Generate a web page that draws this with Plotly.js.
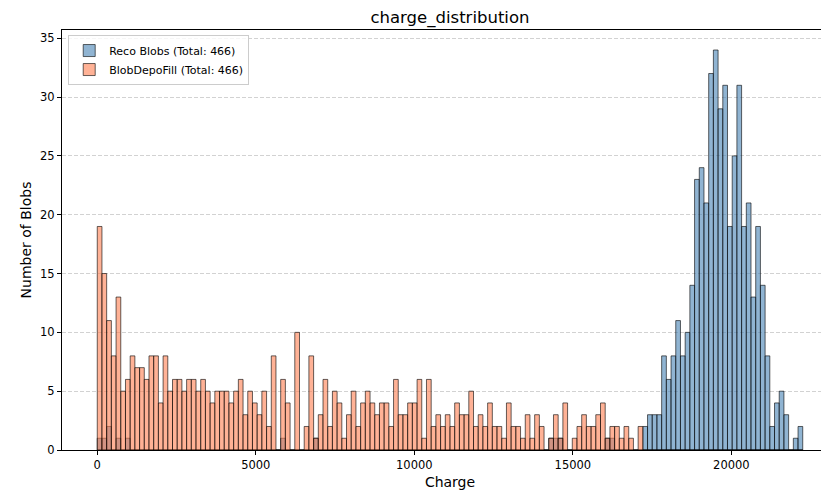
<!DOCTYPE html>
<html>
<head>
<meta charset="utf-8">
<script src="https://cdn.plot.ly/plotly-3.0.1.min.js"></script>
<style>
  html, body { margin: 0; padding: 0; overflow: hidden; background: #fff; }
  #chart { width: 840px; height: 490px; }
</style>
</head>
<body>
<div id="chart"></div>
<script>
// Histogram bin definition (shared by both series)
const binStart = 0;
const binEnd = 22250;
const nBins = 150;

// Counts per bin
const recoCounts = [
  1,1,2,0,1,0,1,0,0,0,
  0,0,0,0,0,0,0,0,0,0,
  0,0,0,0,0,0,0,0,0,0,
  0,0,0,0,0,0,0,0,0,1,
  0,0,0,0,0,0,1,0,0,0,
  0,0,0,0,0,0,0,0,0,0,
  0,0,0,0,0,0,0,0,0,0,
  0,0,0,0,0,0,0,0,0,0,
  0,0,0,0,0,0,0,0,0,0,
  0,0,0,0,0,0,1,1,1,0,
  0,0,0,0,0,0,0,0,1,1,
  0,0,0,0,0,0,2,3,3,3,
  8,6,8,11,8,10,14,23,24,21,
  32,34,29,31,19,25,31,19,21,13,
  19,14,8,2,4,5,3,0,1,2
];
const depoCounts = [
  19,15,11,8,13,5,6,8,7,7,
  6,8,8,4,8,5,6,6,5,6,
  6,5,6,5,4,5,5,5,4,5,
  6,3,5,4,3,5,2,8,0,6,
  4,0,10,0,2,8,1,3,6,2,
  5,4,1,3,5,2,4,5,4,3,
  4,4,2,6,3,3,4,4,6,1,
  6,2,3,2,3,2,4,3,3,5,
  2,3,2,4,2,2,1,4,2,2,
  1,3,1,3,2,0,1,3,1,4,
  0,1,2,3,2,2,3,4,1,2,
  2,1,2,1,0,2,0,0,0,0,
  0,0,0,0,0,0,0,0,0,0,
  0,0,0,0,0,0,0,0,0,0,
  0,0,0,0,0,0,0,0,0,0
];
const seriesNames = ["Reco Blobs (Total: 466)", "BlobDepoFill (Total: 466)"];
const xTickVals = [0, 5000, 10000, 15000, 20000];
const yTickVals = [0, 5, 10, 15, 20, 25, 30, 35];

const binWidth = (binEnd - binStart) / nBins;
const centers = [];
for (let i = 0; i < nBins; i++) centers.push(binStart + (i + 0.5) * binWidth);

const FONT = "DejaVu Sans, sans-serif";
const EDGE = "rgba(0,0,0,0.6)";

const traces = [
  {
    type: "bar", name: seriesNames[0], x: centers, y: recoCounts, width: binWidth,
    marker: { color: "rgba(70,130,180,0.6)", line: { color: EDGE, width: 1 } },
    hoverinfo: "skip"
  },
  {
    type: "bar", name: seriesNames[1], x: centers, y: depoCounts, width: binWidth,
    marker: { color: "rgba(255,127,80,0.6)", line: { color: EDGE, width: 1 } },
    hoverinfo: "skip"
  }
];

const layout = {
  width: 840, height: 490,
  margin: { l: 62, r: 2, t: 30, b: 40 },
  paper_bgcolor: "#fff", plot_bgcolor: "#fff",
  barmode: "overlay", bargap: 0,
  font: { family: FONT, color: "#000", size: 11.5 },
  title: {
    text: "charge_distribution", font: { family: FONT, size: 16.5, color: "#000" },
    x: 0.5, xref: "paper", xanchor: "center", y: 1 - 17 / 490, yref: "container", yanchor: "middle"
  },
  xaxis: {
    range: [-1112, 23362], tickvals: xTickVals, tickformat: "d",
    ticks: "outside", ticklen: 4, tickcolor: "#000", tickwidth: 1,
    showline: true, linecolor: "#000", linewidth: 1, mirror: true,
    showgrid: false, zeroline: false,
    tickfont: { family: FONT, size: 11.5 },
    title: { text: "Charge", font: { family: FONT, size: 14 }, standoff: 6 }
  },
  yaxis: {
    range: [0, 35.7], tickvals: yTickVals,
    ticks: "outside", ticklen: 4, tickcolor: "#000", tickwidth: 1,
    showline: true, linecolor: "#000", linewidth: 1, mirror: true,
    showgrid: true, gridcolor: "rgba(0,0,0,0.22)", griddash: "4px,2px", gridwidth: 0.8,
    zeroline: false,
    tickfont: { family: FONT, size: 11.5 },
    title: { text: "Number of Blobs", font: { family: FONT, size: 14 }, standoff: 5 }
  },
  legend: {
    x: 0.008, y: 0.988, xanchor: "left", yanchor: "top",
    bgcolor: "rgba(255,255,255,0.8)", bordercolor: "#ccc", borderwidth: 1,
    font: { family: FONT, size: 11 }, traceorder: "normal", tracegroupgap: 0,
    itemwidth: 30
  },
  showlegend: true
};

Plotly.newPlot("chart", traces, layout, { staticPlot: true, displayModeBar: false });
</script>
</body>
</html>
